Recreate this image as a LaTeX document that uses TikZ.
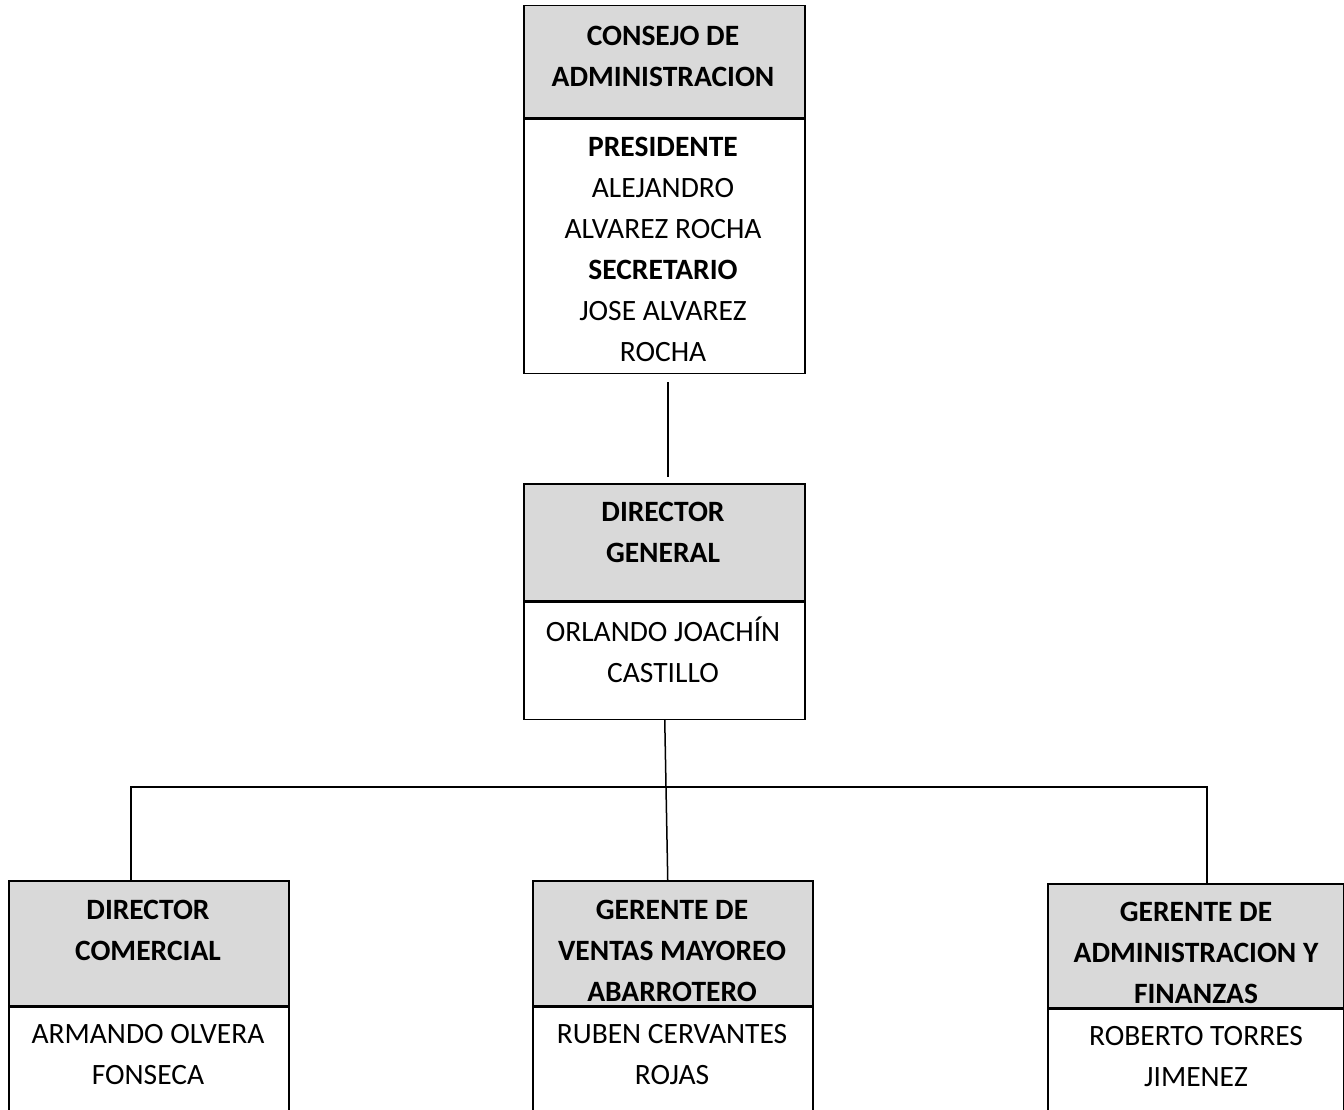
\documentclass[tikz,border=0pt]{standalone}
\usepackage{fontspec}
\setmainfont{Carlito}
\usepackage{tikz}
\usetikzlibrary{positioning}

\definecolor{hdrgray}{RGB}{217,217,217}

\tikzset{
  cargo/.style={draw, line width=1.5pt, minimum width=281pt, inner sep=0pt},
  cargohead/.style={cargo, fill=hdrgray, anchor=north west},
  txt/.style={align=center, inner sep=0pt, font=\fontsize{29.5}{41}\selectfont},
  txtb/.style={txt, font=\fontsize{29.5}{41}\selectfont\bfseries},
  link/.style={line width=1.5pt},
}

\begin{document}
\begin{tikzpicture}[x=1pt, y=-1pt]
    \useasboundingbox (0,0) rectangle (1344,1110);
    \clip (0,0) rectangle (1344,1110);

    % Boxes
    \node[cargohead, minimum height=112pt] (cdaH) at (523,5) {};
    \node[cargo, minimum height=254pt, below=0pt of cdaH] (cdaB) {};
    \node[cargohead, minimum height=117pt] (dgH) at (523,483) {};
    \node[cargo, minimum height=117pt, below=0pt of dgH] (dgB) {};
    \node[cargohead, minimum width=280pt, minimum height=125pt] (dcH) at (8,880) {};
    \node[cargo, minimum width=280pt, minimum height=140pt, below=0pt of dcH] (dcB) {};
    \node[cargohead, minimum width=280pt, minimum height=125pt] (gvH) at (532,880) {};
    \node[cargo, minimum width=280pt, minimum height=140pt, below=0pt of gvH] (gvB) {};
    \node[cargohead, minimum width=296pt, minimum height=124pt] (gaH) at (1047,883) {};
    \node[cargo, minimum width=296pt, minimum height=140pt, below=0pt of gaH] (gaB) {};

    % Texts
    \node[txtb] (cdaHt) at (663,56) {CONSEJO DE\\ADMINISTRACION};
    \node[txt] (cdaBt) at (663,249.5) {\textbf{PRESIDENTE}\\ALEJANDRO\\ALVAREZ ROCHA\\\textbf{SECRETARIO}\\JOSE ALVAREZ\\ROCHA};
    \node[txtb] (dgHt) at (663,532.5) {DIRECTOR\\GENERAL};
    \node[txt] (dgBt) at (663,650) {ORLANDO JOACHÍN\\CASTILLO};
    \node[txtb] (dcHt) at (148,930.5) {DIRECTOR\\COMERCIAL};
    \node[txt] (dcBt) at (148,1054.5) {ARMANDO OLVERA\\FONSECA};
    \node[txtb] (gvHt) at (672,951) {GERENTE DE\\VENTAS MAYOREO\\ABARROTERO};
    \node[txt] (gvBt) at (672,1055) {RUBEN CERVANTES\\ROJAS};
    \node[txtb] (gaHt) at (1196,953) {GERENTE DE\\ADMINISTRACION Y\\FINANZAS};
    \node[txt] (gaBt) at (1196,1057) {ROBERTO TORRES\\JIMENEZ};

    % Edges
    \coordinate (bus) at (665,787);
    \draw[link, shorten <=8pt, shorten >=6pt] ([xshift=3.5pt]cdaB.south) -- ([xshift=3.5pt]dgH.north);
    \draw[link] ([xshift=0.5pt]dgB.south) -- ([xshift=-5pt]gvH.north);
    \draw[link] ([xshift=-18pt]dcH.north) |- (bus) -| ([xshift=11pt]gaH.north);
\end{tikzpicture}
\end{document}
